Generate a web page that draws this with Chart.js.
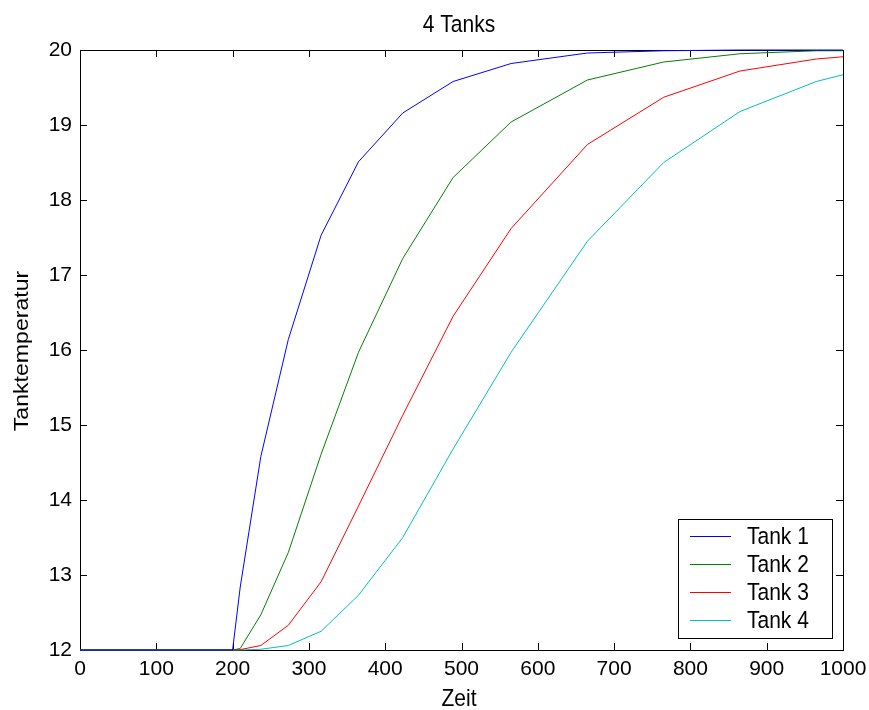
<!DOCTYPE html>
<html>
<head>
<meta charset="utf-8">
<script src="https://cdn.jsdelivr.net/npm/chart.js@4/dist/chart.umd.min.js"></script>
<style>
  html, body { margin: 0; padding: 0; background: #fff; }
  #wrap { width: 869px; height: 710px; }
</style>
</head>
<body>
<div id="wrap"><canvas id="chart" width="869" height="710"></canvas></div>
<script>
// time steps of the solver (Zeit)
const zeit = [0, 200, 210, 237, 273, 316, 365, 423, 489, 565, 665, 765, 865, 965, 1000];

// tank temperatures
const tank1 = [12, 12, 12.84, 14.58, 16.14, 17.53, 18.51, 19.16, 19.58, 19.82, 19.96, 19.99, 20, 20, 20];
const tank2 = [12, 12, 12.02, 12.47, 13.30, 14.61, 15.97, 17.22, 18.30, 19.04, 19.60, 19.84, 19.95, 19.99, 19.99];
const tank3 = [12, 12, 12.005, 12.06, 12.33, 12.91, 13.92, 15.13, 16.45, 17.62, 18.74, 19.37, 19.72, 19.88, 19.91];
const tank4 = [12, 12, 12, 12.01, 12.06, 12.25, 12.73, 13.50, 14.68, 15.97, 17.45, 18.50, 19.18, 19.58, 19.67];

const seriesNames = ['Tank 1', 'Tank 2', 'Tank 3', 'Tank 4'];
const seriesColors = ['#0000ff', '#008000', '#ff0000', '#00bfbf'];

const FONT = '"Liberation Sans", Arial, sans-serif';
const STRETCH = 1.1; // the reference text looks a bit taller than wide

function toPoints(ys) {
  return ys.map((y, i) => ({ x: zeit[i], y: y }));
}

function stretchedText(ctx, text, x, y, align) {
  ctx.save();
  ctx.translate(x, y);
  ctx.scale(1, STRETCH);
  ctx.textAlign = align;
  ctx.textBaseline = 'alphabetic';
  ctx.fillText(text, 0, 0);
  ctx.restore();
}

// frame with inward ticks on all four sides, like the original figure
const framePlugin = {
  id: 'frame',
  beforeDatasetsDraw(chart) {
    const ctx = chart.ctx;
    const a = chart.chartArea;
    const xs = chart.scales.x;
    const ys = chart.scales.y;
    const tick = 7;
    ctx.save();
    ctx.strokeStyle = '#000';
    ctx.lineWidth = 1;
    ctx.beginPath();
    xs.ticks.forEach(t => {
      const px = Math.round(xs.getPixelForValue(t.value)) + 0.5;
      ctx.moveTo(px, a.bottom);
      ctx.lineTo(px, a.bottom - tick);
      ctx.moveTo(px, a.top);
      ctx.lineTo(px, a.top + tick);
    });
    ys.ticks.forEach(t => {
      const py = Math.round(ys.getPixelForValue(t.value)) + 0.5;
      ctx.moveTo(a.left, py);
      ctx.lineTo(a.left + tick, py);
      ctx.moveTo(a.right, py);
      ctx.lineTo(a.right - tick, py);
    });
    ctx.stroke();
    ctx.strokeRect(a.left + 0.5, a.top + 0.5, a.right - a.left, a.bottom - a.top);
    ctx.restore();
  },
  afterDraw(chart) {
    const ctx = chart.ctx;
    ctx.save();
    ctx.fillStyle = '#000';
    ctx.font = '21px ' + FONT;

    // title and axis titles
    stretchedText(ctx, '4 Tanks', 459, 32, 'center');
    stretchedText(ctx, 'Zeit', 459, 706, 'center');
    ctx.save();
    ctx.translate(28, 351);
    ctx.rotate(-Math.PI / 2);
    ctx.scale(STRETCH, 1);
    ctx.textAlign = 'center';
    ctx.textBaseline = 'alphabetic';
    ctx.fillText('Tanktemperatur', 0, 0);
    ctx.restore();

    // legend box in the lower right corner
    const bx = 678, by = 519, bw = 154, bh = 119;
    ctx.fillStyle = '#fff';
    ctx.fillRect(bx, by, bw, bh);
    ctx.strokeStyle = '#000';
    ctx.lineWidth = 1;
    ctx.strokeRect(bx + 0.5, by + 0.5, bw, bh);
    chart.data.datasets.forEach((ds, i) => {
      const rowY = 536 + i * 28;
      ctx.strokeStyle = ds.borderColor;
      ctx.beginPath();
      ctx.moveTo(690, rowY + 0.5);
      ctx.lineTo(731, rowY + 0.5);
      ctx.stroke();
      ctx.fillStyle = '#000';
      stretchedText(ctx, ds.label, 747, rowY + 8, 'left');
    });
    ctx.restore();
  }
};

const ctx = document.getElementById('chart').getContext('2d');
new Chart(ctx, {
  type: 'line',
  data: {
    datasets: [tank1, tank2, tank3, tank4].map((ys, i) => ({
      label: seriesNames[i],
      data: toPoints(ys),
      borderColor: seriesColors[i],
      backgroundColor: seriesColors[i],
      borderWidth: 1,
      pointRadius: 0,
      tension: 0,
      fill: false,
      clip: false
    }))
  },
  options: {
    responsive: false,
    animation: false,
    events: [],
    layout: { padding: { top: 50, right: 26, left: 0, bottom: 0 } },
    plugins: {
      legend: { display: false },
      title: { display: false },
      tooltip: { enabled: false }
    },
    scales: {
      x: {
        type: 'linear',
        min: 0,
        max: 1000,
        grid: { display: false, drawTicks: false },
        border: { display: false },
        ticks: {
          stepSize: 100,
          autoSkip: false,
          maxRotation: 0,
          padding: 7,
          color: '#000',
          font: { family: FONT, size: 21 },
          callback: v => String(v)
        },
        afterFit(scale) {
          scale.height = 60;
          // labels may overhang, the plot box should not shrink for them
          scale.paddingLeft = 0;
          scale.paddingRight = 0;
        }
      },
      y: {
        type: 'linear',
        min: 12,
        max: 20,
        grid: { display: false, drawTicks: false },
        border: { display: false },
        ticks: {
          stepSize: 1,
          padding: 8,
          color: '#000',
          font: { family: FONT, size: 21 },
          callback: v => String(v)
        },
        afterFit(scale) {
          scale.width = 80;
          scale.paddingTop = 0;
          scale.paddingBottom = 0;
        }
      }
    }
  },
  plugins: [framePlugin]
});
</script>
</body>
</html>
